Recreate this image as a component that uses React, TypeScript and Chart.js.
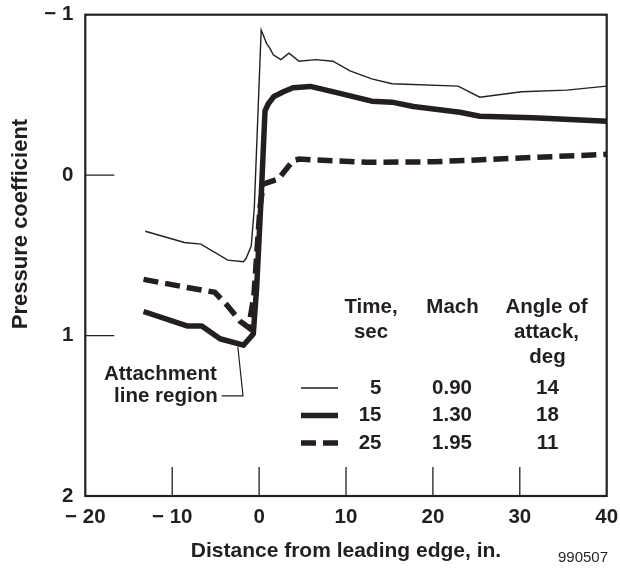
import React, { useEffect, useRef } from "react";
import { Chart, registerables } from "chart.js";

Chart.register(...registerables);

// ---- data ----
const t5X = [-13.1, -8.6, -6.7, -3.6, -1.8, -1.5, -0.9, -0.55, 0.24, 0.87, 1.25, 1.63, 2.5, 3.44, 4.6, 6.5, 8.5, 10.46, 12.96, 15.3, 22.9, 25.4, 30.2, 35.4, 40];
const t5Y = [0.35, 0.42, 0.43, 0.53, 0.54, 0.52, 0.44, 0.2, -0.905, -0.82, -0.79, -0.75, -0.72, -0.76, -0.71, -0.72, -0.71, -0.65, -0.6, -0.57, -0.555, -0.486, -0.52, -0.53, -0.555];

const t15X = [-13.3, -8.3, -6.6, -4.5, -1.8, -0.67, -0.28, 0.29, 0.68, 1.06, 1.7, 2.8, 3.9, 5.9, 9.3, 12.96, 15.3, 17.75, 23.1, 25.4, 31.55, 40];
const t15Y = [0.85, 0.94, 0.94, 1.02, 1.06, 0.99, 0.7, 0.077, -0.4, -0.445, -0.49, -0.52, -0.545, -0.553, -0.51, -0.461, -0.455, -0.428, -0.392, -0.367, -0.357, -0.336];

const t25X = [-13.3, -8.3, -5.1, -3.7, -2.2, -1.2, -0.6, 0.1, 0.48, 2.2, 3.9, 4.6, 12.4, 20.05, 40];
const t25Y = [0.65, 0.7, 0.73, 0.81, 0.91, 0.95, 0.75, 0.2, 0.056, 0.025, -0.09, -0.1, -0.08, -0.083, -0.13];

const legendTimes = ["5", "15", "25"];
const legendMach = ["0.90", "1.30", "1.95"];
const legendAngle = ["14", "18", "11"];

const xTickLabels: Record<string, string> = { "-20": "\u2212 20", "-10": "\u2212 10", "0": "0", "10": "10", "20": "20", "30": "30", "40": "40" };
const yTickLabels: Record<string, string> = { "-1": "\u2212 1", "0": "0", "1": "1", "2": "2" };
const innerXTicks = [-10, 0, 10, 20, 30];
const innerYTicks = [0, 1];

const leaderX = [-4.3, -1.85, -2.45];
const leaderY = [1.376, 1.376, 1.07];

const INK = "#231f20";
const FAMILY = "'Liberation Sans', Arial, Helvetica, sans-serif";
const bold = (s: number) => `bold ${s}px ${FAMILY}`;

const pts = (xs: number[], ys: number[]) => xs.map((x, i) => ({ x, y: ys[i] }));

const zeroPad = (s: any) => {
  s.paddingTop = 0;
  s.paddingBottom = 0;
  s.paddingLeft = 0;
  s.paddingRight = 0;
};

const decorPlugin = {
  id: "decor",
  afterDraw(chart: any) {
    const { ctx, chartArea: ca, scales } = chart;
    const xs = scales.x;
    const ys = scales.y;
    ctx.save();
    ctx.strokeStyle = INK;
    ctx.fillStyle = INK;
    // frame
    ctx.lineWidth = 2.2;
    ctx.strokeRect(ca.left, ca.top, ca.right - ca.left, ca.bottom - ca.top);
    // inner ticks
    ctx.lineWidth = 1.3;
    ctx.beginPath();
    innerXTicks.forEach((v) => {
      const px = xs.getPixelForValue(v);
      ctx.moveTo(px, ca.bottom);
      ctx.lineTo(px, ca.bottom - 29);
    });
    innerYTicks.forEach((v) => {
      const py = ys.getPixelForValue(v);
      ctx.moveTo(ca.left, py);
      ctx.lineTo(ca.left + 29, py);
    });
    ctx.stroke();

    // y axis title
    ctx.save();
    ctx.translate(21, 224);
    ctx.rotate(-Math.PI / 2);
    ctx.font = bold(22);
    ctx.textAlign = "center";
    ctx.textBaseline = "middle";
    ctx.fillText("Pressure coefficient", 0, 0);
    ctx.restore();

    // leader line + annotation
    ctx.lineWidth = 1.2;
    ctx.beginPath();
    leaderX.forEach((v, i) => {
      const px = xs.getPixelForValue(v);
      const py = ys.getPixelForValue(leaderY[i]);
      if (i === 0) ctx.moveTo(px, py);
      else ctx.lineTo(px, py);
    });
    ctx.stroke();
    const ax = xs.getPixelForValue(leaderX[0]);
    const ay = ys.getPixelForValue(leaderY[0]);
    ctx.font = bold(20.5);
    ctx.textAlign = "right";
    ctx.textBaseline = "middle";
    ctx.fillText("Attachment", ax - 5, ay - 22);
    ctx.fillText("line region", ax - 4, ay);

    // legend table
    ctx.textAlign = "center";
    ctx.fillText("Time,", 371, 307);
    ctx.fillText("sec", 371, 332);
    ctx.fillText("Mach", 452.5, 307);
    ctx.fillText("Angle of", 546.5, 307);
    ctx.fillText("attack,", 546.5, 332);
    ctx.fillText("deg", 547.5, 357);
    const rowY = [388, 415.5, 443];
    const styles = [
      { w: 1.4, dash: [] as number[] },
      { w: 5.5, dash: [] as number[] },
      { w: 5.5, dash: [15, 7] },
    ];
    rowY.forEach((y, i) => {
      ctx.save();
      ctx.lineWidth = styles[i].w;
      ctx.setLineDash(styles[i].dash);
      ctx.lineCap = "butt";
      ctx.beginPath();
      ctx.moveTo(301, y);
      ctx.lineTo(338, y);
      ctx.stroke();
      ctx.restore();
      ctx.textAlign = "right";
      ctx.fillText(legendTimes[i], 381.5, y);
      ctx.textAlign = "center";
      ctx.fillText(legendMach[i], 452, y);
      ctx.fillText(legendAngle[i], 547.5, y);
    });

    // figure number
    ctx.font = `15px ${FAMILY}`;
    ctx.textAlign = "right";
    ctx.fillText("990507", 608, 558);
    ctx.restore();
  },
};

export default function App() {
  const ref = useRef<HTMLCanvasElement | null>(null);
  useEffect(() => {
    if (!ref.current) return;
    const chart = new Chart(ref.current, {
      type: "scatter",
      data: {
        datasets: [
          {
            label: "5 sec",
            data: pts(t5X, t5Y),
            showLine: true,
            borderColor: INK,
            backgroundColor: INK,
            borderWidth: 1.4,
            pointRadius: 0,
            tension: 0,
          },
          {
            label: "25 sec",
            data: pts(t25X, t25Y),
            showLine: true,
            borderColor: INK,
            backgroundColor: INK,
            borderWidth: 5.5,
            borderDash: [15, 7],
            borderCapStyle: "butt",
            pointRadius: 0,
            tension: 0,
          },
          {
            label: "15 sec",
            data: pts(t15X, t15Y),
            showLine: true,
            borderColor: INK,
            backgroundColor: INK,
            borderWidth: 5.5,
            borderJoinStyle: "round",
            pointRadius: 0,
            tension: 0,
          },
        ],
      },
      options: {
        responsive: false,
        animation: false,
        devicePixelRatio: 1,
        layout: { padding: { left: 0, top: 14.7, right: 13.3, bottom: 0 } },
        plugins: { legend: { display: false }, tooltip: { enabled: false } },
        scales: {
          x: {
            type: "linear",
            position: "bottom",
            min: -20,
            max: 40,
            grid: { display: false, drawTicks: false },
            border: { display: false },
            ticks: {
              stepSize: 10,
              autoSkip: false,
              maxRotation: 0,
              padding: 9,
              color: INK,
              font: { family: FAMILY, weight: "bold", size: 20.5 },
              callback: (v: any) => xTickLabels[String(v)] ?? "",
            },
            title: {
              display: true,
              text: "Distance from leading edge, in.",
              color: INK,
              font: { family: FAMILY, weight: "bold", size: 21 },
              padding: { top: 0, bottom: 5 },
            },
            afterFit: (s: any) => {
              s.height = 73;
              zeroPad(s);
            },
          },
          y: {
            type: "linear",
            reverse: true,
            min: -1,
            max: 2,
            grid: { display: false, drawTicks: false },
            border: { display: false },
            ticks: {
              stepSize: 1,
              padding: 12,
              color: INK,
              font: { family: FAMILY, weight: "bold", size: 20.5 },
              callback: (v: any) => yTickLabels[String(v)] ?? "",
            },
            afterFit: (s: any) => {
              s.width = 85.3;
              zeroPad(s);
            },
          },
        },
      } as any,
      plugins: [decorPlugin],
    });
    return () => chart.destroy();
  }, []);
  return (
    <div style={{ position: "fixed", left: 0, top: 0, width: 620, height: 569, background: "#fff" }}>
      <canvas ref={ref} width={620} height={569} />
    </div>
  );
}
